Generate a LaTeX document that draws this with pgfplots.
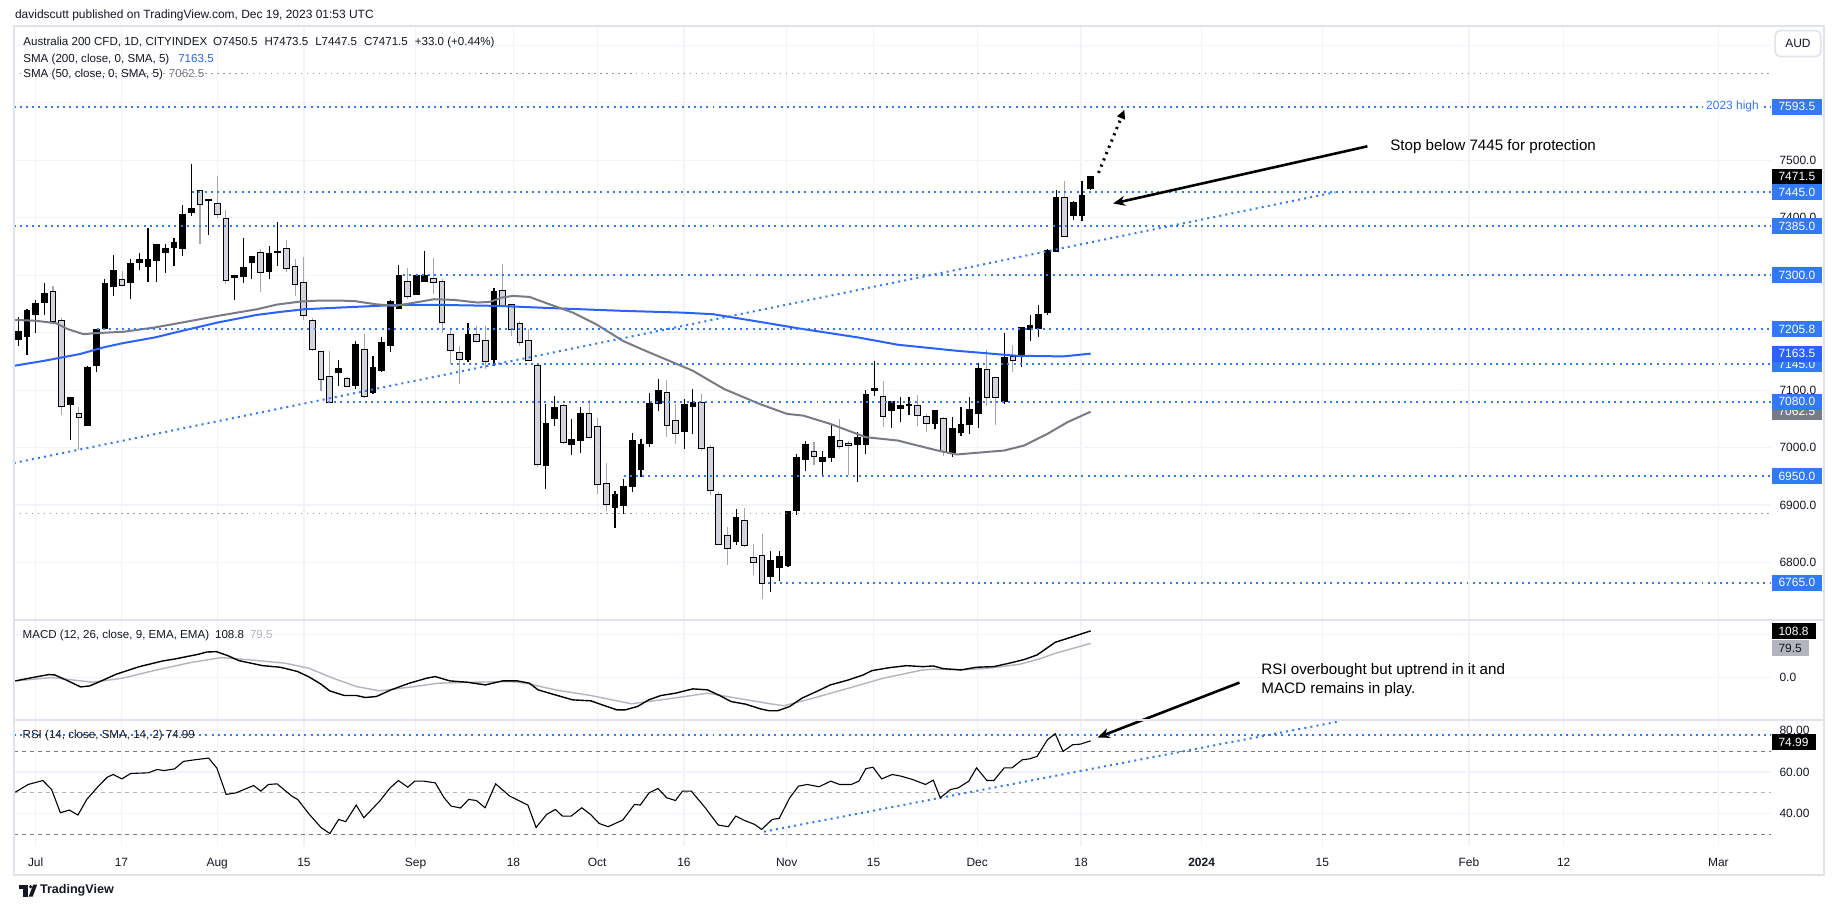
\documentclass[border=0pt]{standalone}
\usepackage{fontspec}
\setmainfont{Liberation Sans}
\usepackage{pgfplots}
\usepackage{pgfplotstable}
\pgfplotsset{compat=1.18}
\usetikzlibrary{arrows.meta}

\definecolor{tvblue}{HTML}{3179F5}
\definecolor{smablue}{HTML}{2962FF}
\definecolor{smagray}{HTML}{787B86}
\definecolor{gridc}{HTML}{F0F3FA}
\definecolor{framec}{HTML}{E0E3EB}
\definecolor{txt}{HTML}{131722}
\definecolor{downfill}{HTML}{D1D4DC}
\definecolor{downwick}{HTML}{A3A6AF}
\definecolor{siggray}{HTML}{B2B5BE}
\definecolor{dotgray}{HTML}{9598A1}

\newcommand\tvf{\fontsize{6}{7.2}\selectfont}
\newcommand\legf{\fontsize{5.8}{7}\selectfont}
\newcommand\notef{\fontsize{7.6}{9.5}\selectfont}

% daily candles, i = bar index (Jul 3 = 0)
\pgfplotstableread{
i o h l c
-2 7188 7228 7177 7202
-1 7194 7241 7161 7238
0 7231 7257 7200 7251
1 7252 7287 7231 7269
4 7075 7088 7014 7087
6 7038 7142 7038 7140
7 7142 7207 7131 7205
8 7207 7293 7206 7286
9 7281 7336 7264 7308
11 7288 7328 7258 7320
12 7323 7339 7310 7328
13 7316 7383 7288 7328
14 7326 7354 7288 7353
15 7339 7354 7303 7347
16 7349 7365 7316 7357
17 7347 7422 7334 7405
18 7410 7494 7403 7416
20 7430 7433 7370 7432
23 7296 7299 7257 7299
24 7297 7365 7286 7314
25 7323 7333 7294 7333
27 7306 7351 7293 7338
28 7339 7393 7316 7341
35 7131 7153 7108 7137
37 7108 7185 7102 7180
39 7096 7159 7093 7140
40 7134 7192 7132 7183
41 7177 7256 7166 7255
42 7243 7318 7242 7300
44 7267 7302 7265 7300
45 7289 7343 7288 7300
50 7153 7216 7149 7197
53 7154 7278 7142 7272
59 6969 7076 6928 7042
60 7051 7090 7038 7070
62 7005 7049 6987 7015
63 7012 7070 6991 7060
67 6895 6924 6860 6918
68 6900 6946 6885 6933
69 6933 7026 6923 7013
70 6962 7015 6949 7005
71 7007 7095 7001 7076
72 7077 7119 7064 7099
75 7028 7085 6998 7075
76 7072 7102 7023 7079
81 6837 6894 6830 6878
85 6775 6820 6749 6803
86 6792 6821 6768 6810
87 6794 6888 6792 6888
88 6890 6989 6883 6983
89 6979 7012 6959 7005
91 6976 6994 6949 6982
92 6983 7041 6975 7020
95 7005 7027 6940 7017
96 7005 7101 6989 7093
97 7100 7151 7090 7103
99 7064 7082 7035 7081
100 7068 7088 7044 7074
101 7073 7089 7056 7075
104 7042 7066 7033 7064
106 6992 7053 6983 7033
107 7027 7070 7021 7040
108 7040 7088 7024 7066
109 7059 7147 7035 7138
112 7080 7200 7076 7157
114 7159 7210 7140 7209
115 7206 7231 7186 7213
116 7208 7248 7193 7231
117 7236 7346 7231 7343
118 7342 7449 7342 7435
120 7404 7429 7396 7426
121 7404 7464 7395 7438.5
122 7450.5 7473.5 7447.5 7471.5
}\updata

\pgfplotstableread{
i o h l c
2 7271 7281 7219 7221
3 7221 7225 7056 7073
5 7058 7070 6995 7053
10 7291 7308 7282 7283
19 7446 7448 7354 7424
21 7424 7472 7400 7406
22 7398 7413 7284 7291
26 7339 7345 7271 7306
29 7346 7361 7305 7313
30 7315 7328 7264 7285
31 7287 7332 7223 7230
32 7221 7226 7168 7172
33 7166 7168 7099 7120
34 7122 7168 7079 7080
36 7120 7122 7105 7107
38 7170 7197 7087 7090
43 7289 7312 7258 7263
46 7294 7330 7268 7288
47 7289 7293 7200 7218
48 7196 7207 7145 7170
49 7164 7177 7110 7154
51 7196 7212 7184 7186
52 7185 7212 7137 7150
54 7273 7320 7245 7246
55 7248 7250 7194 7207
56 7216 7221 7177 7183
57 7185 7206 7151 7152
58 7142 7145 6966 6972
61 7072 7076 7006 7009
64 7058 7082 7016 7018
65 7035 7052 6920 6937
66 6937 6974 6889 6901
73 7095 7118 7018 7040
74 7046 7076 7007 7025
77 7077 7093 6995 6999
78 6999 7004 6917 6926
79 6917 6923 6830 6832
80 6847 6862 6795 6825
82 6872 6895 6827 6830
83 6808 6832 6778 6801
84 6812 6850 6736 6765
90 6992 7009 6969 6986
93 7011 7050 6998 7003
94 7006 7012 6952 7005
98 7088 7116 7035 7055
102 7072 7092 7038 7057
103 7053 7059 7027 7043
105 7050 7053 6985 6994
110 7135 7170 7073 7088
111 7121 7121 7040 7088
113 7157 7178 7132 7153
119 7435 7464 7368 7368
}\downdata

\pgfplotsset{
  tvpane/.style={scale only axis, width=881pt, anchor=south west,
    xmin=-2.54, xmax=200.69, clip=false,
    axis line style={draw=none}, major tick length=0pt,
    xtick={0,9.92,20.99,31.03,43.94,55.25,64.94,74.97,86.85,96.89,108.88,120.88,134.83,148.79,165.74,176.7,194.58},
    xticklabels={}, yticklabels={},
    grid=major, grid style={gridc, line width=0.6pt}},
  hline/.style={tvblue, line width=1pt, dash pattern=on 1pt off 2.1pt},
  gline/.style={dotgray, line width=0.7pt, dash pattern=on 0.7pt off 2.3pt},
  errbar/.style 2 args={draw=none, mark=none, forget plot,
    /pgfplots/error bars/y dir=both, /pgfplots/error bars/y explicit,
    /pgfplots/error bars/error mark=none,
    /pgfplots/error bars/error bar style={draw=#1, line width=#2, solid}},
}
\tikzset{
  plab/.style={anchor=west, font=\tvf, text=txt, inner sep=0pt, xshift=4pt},
  blab/.style={anchor=west, font=\tvf, text=white, fill=#1, inner xsep=3.5pt, inner ysep=0pt, minimum height=8pt},
}

\begin{document}
\begin{tikzpicture}
\fill[white] (0,0) rectangle (917.5pt,455.5pt);

% ---------------- price pane ----------------
\begin{axis}[tvpane, at={(4.5pt,144.65pt)}, height=297.85pt,
    ymin=6699.8, ymax=7733.8, ytick={6800,6900,...,7700}]
  % wicks
  \addplot[errbar={downwick}{0.55pt}] table[x=i, y expr={(\thisrow{h}+\thisrow{l})/2}, y error expr={(\thisrow{h}-\thisrow{l})/2}] {\downdata};
  \addplot[errbar={black}{0.6pt}] table[x=i, y expr={(\thisrow{h}+\thisrow{l})/2}, y error expr={(\thisrow{h}-\thisrow{l})/2}] {\updata};
  % bodies
  \addplot[errbar={black}{3.35pt}] table[x=i, y expr={(\thisrow{o}+\thisrow{c})/2}, y error expr={(\thisrow{o}-\thisrow{c})/2+1.74}] {\downdata};
  \addplot[errbar={downfill}{2.35pt}] table[x=i, y expr={(\thisrow{o}+\thisrow{c})/2}, y error expr={(\thisrow{o}-\thisrow{c})/2}] {\downdata};
  \addplot[errbar={black}{3.35pt}] table[x=i, y expr={(\thisrow{o}+\thisrow{c})/2}, y error expr={(\thisrow{c}-\thisrow{o})/2+0.87}] {\updata};

  % SMA 200 and SMA 50
  \addplot[smablue, line width=1pt] coordinates {(-2.44,7142.5) (1.0,7151.1) (5.09,7162.7) (7.82,7174.3) (10.1,7181.8) (13.75,7191.6) (16.94,7203.2) (21.05,7217.7) (25.61,7231.0) (28.34,7236.2) (31.08,7240.8) (35.18,7243.7) (42.0,7248.3) (46.6,7248.3) (53.4,7246.6) (60.9,7242.0) (67.8,7238.0) (74.6,7235.0) (78.3,7232.2) (83.7,7218.9) (88.3,7207.3) (95.1,7191.7) (99.7,7179.0) (106.5,7168.5) (113.4,7159.8) (118.8,7158.7) (122,7163.5)};
  \addplot[smagray, line width=1pt] coordinates {(-2.44,7222.3) (0.07,7220.6) (2.35,7216.5) (3.72,7206.1) (5.54,7197.4) (6.91,7199.2) (10.1,7201.5) (13.75,7209) (16.94,7217.7) (21.05,7229.2) (25.61,7240.8) (27.89,7248.9) (30.6,7254.1) (32.9,7255.9) (35.2,7255.9) (37.0,7254.7) (39.3,7249.5) (41.6,7246.6) (43.85,7252.4) (46.1,7258.2) (48.4,7257) (51.1,7252.4) (52.5,7253.5) (53.9,7261.1) (55.2,7264) (57.1,7262.2) (59.4,7249.5) (62.1,7235) (64.8,7214.8) (67.9,7185.8) (70.05,7171.4) (75.98,7133.8) (79.6,7102) (83.7,7076) (86.9,7058.6) (88.75,7055.7) (91.9,7041.2) (96.0,7018.1) (99.7,7012.3) (101.97,7003.6) (104.3,6994.9) (106.5,6988) (108.8,6990.9) (112.0,6994.9) (114.3,7003.6) (117.0,7023.9) (119.3,7044.1) (122,7062.5)};

  % drawn levels
  \addplot[gline] coordinates {(-2.54,7651) (200.69,7651)};
  \addplot[gline] coordinates {(-2.54,6885) (200.69,6885)};
  \addplot[hline] coordinates {(-2.54,7593.5) (200.69,7593.5)};
  \addplot[hline] coordinates {(18.1,7445) (200.69,7445)};
  \addplot[hline] coordinates {(-2.54,7385) (200.69,7385)};
  \addplot[hline] coordinates {(42.5,7300) (200.69,7300)};
  \addplot[hline] coordinates {(7.1,7205.8) (200.69,7205.8)};
  \addplot[hline] coordinates {(48.0,7145) (200.69,7145)};
  \addplot[hline] coordinates {(33.8,7080) (200.69,7080)};
  \addplot[hline] coordinates {(68.0,6950) (200.69,6950)};
  \addplot[hline] coordinates {(84.65,6765) (200.69,6765)};
  \addplot[hline] coordinates {(-2.54,6973.1) (150.3,7444.5)};

  \node[anchor=east, fill=white, inner xsep=1.5pt, inner ysep=0.5pt, font=\tvf, text=tvblue] at (axis cs:199.65,7593.5) {2023 high};

  % annotations
  \draw[-{Triangle[length=4.5pt,width=4pt]}, line width=1.5pt, dash pattern=on 1.1pt off 2.3pt] (axis cs:122.9,7478) -- (axis cs:125.9,7588);
  \draw[-{Stealth[length=6pt,width=5pt]}, line width=1.3pt] (axis cs:154.0,7524.3) -- (axis cs:124.6,7424.8);
  \node[anchor=west, inner sep=0pt, font=\notef, text=black] at (axis cs:156.6,7524.3) {Stop below 7445 for protection};

  % price scale
  \node[plab] at (axis cs:200.69,7500) {7500.0};
  \node[plab] at (axis cs:200.69,7400) {7400.0};
  \node[plab] at (axis cs:200.69,7100) {7100.0};
  \node[plab] at (axis cs:200.69,7000) {7000.0};
  \node[plab] at (axis cs:200.69,6900) {6900.0};
  \node[plab] at (axis cs:200.69,6800) {6800.0};
  \node[blab=tvblue] at (axis cs:200.69,7593.5) {7593.5};
  \node[blab=black] at (axis cs:200.69,7471.5) {7471.5};
  \node[blab=tvblue] at (axis cs:200.69,7444) {7445.0};
  \node[blab=tvblue] at (axis cs:200.69,7385) {7385.0};
  \node[blab=tvblue] at (axis cs:200.69,7300) {7300.0};
  \node[blab=tvblue] at (axis cs:200.69,7205.8) {7205.8};
  \node[blab=tvblue] at (axis cs:200.69,7145) {7145.0};
  \node[blab=smablue] at (axis cs:200.69,7163.5) {7163.5};
  \node[blab=smagray] at (axis cs:200.69,7062.5) {7062.5};
  \node[blab=tvblue] at (axis cs:200.69,7080) {7080.0};
  \node[blab=tvblue] at (axis cs:200.69,6950) {6950.0};
  \node[blab=tvblue] at (axis cs:200.69,6765) {6765.0};
\end{axis}

% ---------------- MACD pane ----------------
\begin{axis}[tvpane, at={(4.5pt,94.35pt)}, height=50.3pt,
    ymin=-100, ymax=133.95, ytick={0,100}]
  \addplot[siggray, line width=0.7pt] coordinates {(-2.35,-7.8) (1.85,0) (6.6,-10.9) (10.0,-1.6) (14.0,17.8) (18.1,35.7) (21.5,46.5) (24.9,41.1) (28.9,33.3) (31.6,21.7) (34.4,-1.6) (37.1,-21.0) (39.8,-31.0) (43.8,-21.0) (46.6,-13.2) (50.6,-10.9) (54.7,-9.3) (56.7,-13.2) (60.1,-28.7) (64.2,-41.9) (68.9,-61.2) (74.3,-46.5) (77.7,-36.4) (81.1,-48.1) (84.5,-59.7) (86.5,-65.9) (89.9,-48.1) (94.0,-24.8) (98.0,-1.6) (102.6,17.8) (103.8,19.5) (107.0,17.8) (110.2,21.7) (113.8,31.0) (116.1,43.4) (117.9,56.6) (122,79.5)};
  \addplot[black, line width=0.7pt] coordinates {(-2.35,-7.8) (-0.19,0.7) (1.5,6.9) (2.2,6.1) (3.5,-5.5) (5.2,-21.8) (6.25,-19.5) (7.6,-7.8) (9.3,7.7) (12.0,25.5) (14.7,38.7) (16.1,43.3) (18.8,54.2) (19.8,59.6) (20.9,60.4) (22.2,51.2) (23.5,39.5) (26.2,27.9) (28.3,24.0) (30.3,14.0) (31.6,1.6) (33.0,-15.5) (34.0,-31.0) (35.7,-41.9) (37.1,-41.9) (38.1,-46.5) (39.4,-44.2) (41.1,-28.7) (43.2,-13.2) (45.2,-1.6) (46.2,2.3) (47.9,-7.8) (49.9,-10.9) (52.0,-17.1) (54.0,-7.8) (55.7,-7.8) (57.1,-13.2) (58.1,-28.7) (59.8,-38.8) (62.1,-52.0) (64.2,-54.3) (65.5,-63.6) (67.2,-75.2) (68.2,-75.2) (69.6,-67.4) (70.9,-52.0) (72.3,-41.9) (74.0,-36.4) (76.0,-26.4) (77.7,-28.7) (79.1,-41.9) (80.4,-55.9) (82.1,-62.1) (83.8,-72.9) (84.8,-77.5) (85.8,-77.5) (87.2,-67.4) (88.6,-48.1) (90.3,-32.6) (91.9,-17.1) (94.0,-5.5) (95.7,6.1) (96.7,16.1) (98.7,23.0) (100.7,27.7) (102.6,25.4) (103.8,27.1) (104.9,20.9) (107.0,17.8) (108.8,24.0) (110.8,25.5) (112.9,34.9) (114.4,42.6) (115.8,52.7) (117.9,82.2) (119.7,93.8) (122,108.8)};
  \node[anchor=west, inner sep=0pt, align=left, font=\notef, text=black] at (axis cs:141.7,-6.7) {RSI overbought but uptrend in it and\\MACD remains in play.};
  \node[plab] at (axis cs:200.69,0) {0.0};
  \node[blab=black] at (axis cs:200.69,108.8) {108.8};
  \node[blab=siggray, text=txt] at (axis cs:200.69,68.8) {79.5};
\end{axis}

% ---------------- RSI pane ----------------
\begin{axis}[tvpane, at={(4.5pt,31.5pt)}, height=62.85pt,
    ymin=24.5, ymax=84.8, ytick={40,60,80},
    xticklabels={Jul,17,Aug,15,Sep,18,Oct,16,Nov,15,Dec,18,\textbf{2024},15,Feb,12,Mar},
    xticklabel style={font=\tvf, text=txt, anchor=base, yshift=-10.5pt}]
  \addplot[smagray, line width=0.55pt, dash pattern=on 2pt off 2pt] coordinates {(-2.54,70) (200.69,70)};
  \addplot[siggray, line width=0.55pt, dash pattern=on 2pt off 2pt] coordinates {(-2.54,50) (200.69,50)};
  \addplot[smagray, line width=0.55pt, dash pattern=on 2pt off 2pt] coordinates {(-2.54,30) (200.69,30)};
  \addplot[hline] coordinates {(-2.54,77.9) (200.69,77.9)};
  \addplot[hline] coordinates {(84.2,31.3) (150.7,84.3)};
  \addplot[black, line width=0.55pt] coordinates {(-2.35,50.3) (-0.87,54.0) (0.83,55.9) (1.84,51.6) (2.86,40.4) (3.88,41.7) (4.89,39.3) (5.91,46.8) (7.26,53.2) (8.28,57.5) (8.96,58.8) (9.97,56.7) (10.99,59.3) (13.02,59.6) (14.04,61.2) (14.85,60.7) (16.07,61.5) (17.09,65.1) (18.44,65.9) (20.0,66.7) (20.95,61.9) (22.03,49.2) (23.18,50.0) (25.21,53.5) (26.03,50.8) (26.91,54.0) (27.92,54.3) (29.62,48.4) (30.3,46.8) (31.65,39.6) (33.0,33.3) (34.02,30.4) (35.04,37.2) (35.85,36.1) (37.07,44.1) (37.95,38.0) (39.78,46.0) (41.0,52.4) (41.95,55.9) (43.03,52.7) (43.84,55.6) (44.86,55.6) (46.21,54.8) (47.23,47.6) (48.04,43.6) (49.13,42.7) (50.07,46.8) (50.96,46.3) (51.97,42.8) (53.19,54.3) (54.82,48.4) (56.92,44.1) (57.87,33.3) (59.09,39.6) (60.1,42.0) (60.91,38.8) (61.93,38.8) (63.15,42.8) (64.16,39.6) (65.18,35.2) (66.2,33.7) (67.89,36.9) (69.25,44.4) (69.92,44.1) (70.94,50.0) (71.96,52.1) (72.97,47.6) (73.99,46.3) (74.8,50.8) (75.82,50.8) (77.37,43.1) (78.93,34.5) (80.08,33.7) (80.96,38.8) (81.91,36.8) (83.13,34.8) (83.95,32.4) (85.17,37.2) (85.98,37.7) (87.2,47.6) (88.21,53.2) (89.23,54.0) (90.58,52.9) (91.94,55.6) (92.96,54.0) (94.31,54.0) (95.19,55.6) (96.0,61.6) (96.82,62.3) (97.83,56.7) (99.05,58.8) (100.07,58.0) (101.4,56.4) (102.9,54.0) (103.8,56.1) (104.6,47.6) (105.8,51.6) (106.7,52.4) (107.9,55.6) (108.8,62.0) (110.0,55.9) (110.8,55.9) (112.0,62.0) (112.9,62.0) (114.1,65.9) (114.9,66.3) (115.8,67.5) (117.0,75.5) (117.9,78.4) (118.8,69.9) (119.9,73.1) (120.8,73.4) (122,74.99)};
  \draw[-{Stealth[length=6pt,width=5pt]}, line width=1.3pt] (axis cs:139.2,103.0) -- (axis cs:122.8,76.6);
  \node[plab] at (axis cs:200.69,80) {80.00};
  \node[plab] at (axis cs:200.69,60) {60.00};
  \node[plab] at (axis cs:200.69,40) {40.00};
  \node[blab=black] at (axis cs:200.69,74.3) {74.99};
\end{axis}

% ---------------- frame, legends, header ----------------
\begin{scope}[x=0.5pt, y=-0.5pt, yshift=455.5pt]
  \draw[framec, line width=1pt] (9,26) rectangle (1824,877);
  \draw[framec, line width=1pt] (9,621.7) -- (1824,621.7);
  \draw[framec, line width=1pt] (9,722.3) -- (1824,722.3);
  \draw[framec, line width=0.8pt, rounded corners=2.5pt, fill=white] (1775,30.7) rectangle (1820.7,56.7);
  \node[font=\tvf, text=txt] at (1797.8,43.7) {AUD};

  \node[anchor=west, inner sep=0pt, font=\tvf, text=txt] at (10,15) {davidscutt published on TradingView.com, Dec 19, 2023 01:53 UTC};

  \begin{scope}[every node/.style={anchor=west, inner sep=0pt, font=\legf, text=txt}]
    \node at (18.3,42.7) {Australia 200 CFD, 1D, CITYINDEX\hspace{3pt}O7450.5\hspace{3.5pt}H7473.5\hspace{3.5pt}L7447.5\hspace{3.5pt}C7471.5\hspace{3.5pt}+33.0 (+0.44\%)};
    \node at (18.3,59.3) {SMA (200, close, 0, SMA, 5)\hspace{4.5pt}\textcolor{smablue}{7163.5}};
    \node at (18.3,75) {SMA (50, close, 0, SMA, 5)\hspace{3pt}\textcolor{smagray}{7062.5}};
    \node at (17.6,636.7) {MACD (12, 26, close, 9, EMA, EMA)\hspace{3pt}108.8\hspace{3pt}\textcolor{siggray}{79.5}};
    \node at (17.6,737.7) {RSI (14, close, SMA, 14, 2)\hspace{1.5pt}74.99};
  \end{scope}

  % footer logo
  \fill[txt] (14,887) rectangle (23,891);
  \fill[txt] (18.5,891) rectangle (23,899);
  \fill[txt] (26,889) circle (1.7);
  \fill[txt] (24,899) -- (28.5,887) -- (32.5,887) -- (28,899) -- cycle;
  \node[anchor=west, inner sep=0pt, font=\fontsize{6.3}{7}\selectfont\bfseries, text=txt] at (35,893) {TradingView};
\end{scope}
\end{tikzpicture}
\end{document}
